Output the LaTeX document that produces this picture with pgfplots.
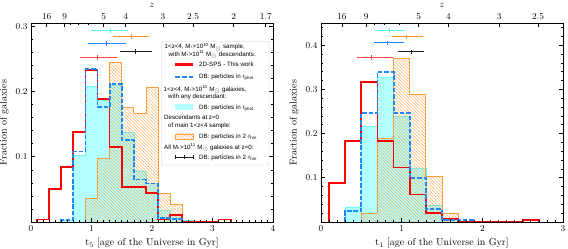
\documentclass[border=0pt]{standalone}
\usepackage{pgfplots}
\pgfplotsset{compat=1.18}
\usepackage{fontspec}
\newfontfamily\legfont{Liberation Sans}
\usetikzlibrary{patterns.meta}

\definecolor{hred}{RGB}{255,0,0}
\definecolor{legred}{RGB}{250,10,10}
\definecolor{hblue}{RGB}{30,136,255}
\definecolor{hcyanfill}{RGB}{178,255,255}
\definecolor{hcyanedge}{RGB}{110,245,245}
\definecolor{horange}{RGB}{255,160,64}
\definecolor{ebred}{RGB}{255,70,70}
\definecolor{ebcyan}{RGB}{90,250,250}
\definecolor{eborange}{RGB}{255,150,40}
\definecolor{ebblue}{RGB}{40,130,255}
\definecolor{ebblack}{RGB}{30,30,30}
\definecolor{legframe}{RGB}{205,205,205}

\pgfplotsset{
  histax/.style={scale only axis, width=242pt, height=199pt, ymin=0,
    tick align=inside, xtick pos=bottom, ytick pos=both, yticklabel pos=left,
    minor x tick num=9,
    axis line style={line width=0.9pt},
    major tick length=4pt, minor tick length=2pt,
    every tick/.style={black, line width=0.6pt},
    tick label style={font=\small}, label style={font=\normalsize},
    axis on top, clip=true},
  ztopax/.style={scale only axis, width=242pt, height=199pt,
    axis x line*=top, hide y axis, tick align=inside,
    major tick length=4pt, minor tick length=2pt,
    every tick/.style={black, line width=0.6pt},
    x axis line style={draw=none},
    tick label style={font=\small}, xlabel={$z$},
    xlabel style={font=\normalsize, yshift=-1.5pt}},
  ebar/.style={only marks, mark=|, mark size=2.3pt, mark options={line width=1pt, #1},
    error bars/.cd, x dir=both, x explicit,
    error bar style={line width=1pt, #1},
    error mark options={line width=1pt, mark size=2.8pt, #1}},
  redstep/.style={const plot, color=hred, line width=1.7pt, mark=none},
  bluestep/.style={const plot, color=hblue, line width=1.8pt, mark=none, dash pattern=on 4.5pt off 1.8pt},
  cyanfill/.style={const plot, draw=none, fill=hcyanfill, mark=none},
  cyanedge/.style={const plot, color=hcyanedge, line width=0.6pt, mark=none},
  orangehatch/.style={const plot, color=horange, line width=0.8pt, mark=none,
    pattern={Lines[angle=-45,distance=2.3pt,line width=0.35pt]}, pattern color=horange},
}

\newcommand{\legtext}{\legfont\fontsize{6.2}{7.4}\selectfont}
\newcommand{\Ms}{M\textsubscript{*}}
\newcommand{\Msun}{M\textsubscript{$\odot$}}

\begin{document}
\begin{tikzpicture}
\useasboundingbox (-31pt,-27pt) rectangle (537pt,222pt);

% ---------------- left panel ----------------
\begin{axis}[histax, at={(0pt,0pt)}, anchor=south west,
  xmin=0, xmax=4, ymax=0.305,
  xtick={0,1,2,3,4},
  ytick={0.1,0.2,0.3},
  yticklabels={0.1,0.2,0.3},
  minor ytick={0.02,0.04,0.06,0.08,0.12,0.14,0.16,0.18,0.22,0.24,0.26,0.28},
  xlabel={t$_5$ [age of the Universe in Gyr]},
  ylabel={Fraction of galaxies}]
\addplot[cyanfill] coordinates {(0.5,0) (0.5,0.003) (0.7,0.102) (0.9,0.208) (1.1,0.187) (1.3,0.209) (1.5,0.138) (1.7,0.077) (1.9,0.059) (2.1,0.018) (2.3,0.010) (2.5,0.003) (2.7,0.003) (2.7,0)} \closedcycle;
\addplot[cyanedge] coordinates {(0.5,0) (0.5,0.003) (0.7,0.102) (0.9,0.208) (1.1,0.187) (1.3,0.209) (1.5,0.138) (1.7,0.077) (1.9,0.059) (2.1,0.018) (2.3,0.010) (2.5,0.003) (2.7,0.003) (2.7,0)};
\addplot[orangehatch] coordinates {(0.9,0) (0.9,0.036) (1.1,0.097) (1.3,0.245) (1.5,0.176) (1.7,0.167) (1.9,0.206) (2.1,0.044) (2.3,0.027) (2.5,0.027) (2.5,0)} \closedcycle;
\addplot[redstep] coordinates {(0.1,0) (0.1,0.004) (0.3,0.051) (0.5,0.084) (0.7,0.138) (0.9,0.233) (1.1,0.189) (1.3,0.115) (1.5,0.054) (1.7,0.054) (1.9,0.044) (2.1,0.004) (2.3,0.011) (2.5,0) (3.1,0) (3.1,0.004) (3.3,0.004) (3.3,0)};
\addplot[bluestep] coordinates {(0.5,0) (0.5,0.003) (0.7,0.108) (0.9,0.234) (1.1,0.176) (1.3,0.212) (1.5,0.126) (1.7,0.065) (1.9,0.059) (2.1,0.006) (2.3,0.005) (2.5,0.005) (2.5,0)};
\addplot[ebar=ebcyan] coordinates {(1.306,0.2935) += (0.259,0) -= (0.265,0)};
\addplot[ebar=eborange] coordinates {(1.653,0.284) += (0.259,0) -= (0.248,0)};
\addplot[ebar=ebblue] coordinates {(1.25,0.2735) += (0.266,0) -= (0.26,0)};
\addplot[ebar=ebblack] coordinates {(1.735,0.2612) += (0.22,0) -= (0.22,0)};
\addplot[ebar=ebred] coordinates {(1.096,0.2522) += (0.281,0) -= (0.232,0)};
\end{axis}
\begin{axis}[ztopax, at={(0pt,0pt)}, anchor=south west,
  xmin=0, xmax=4, ymin=0, ymax=1,
  xtick={0.26,0.555,1.20,1.565,2.18,2.68,3.35,3.88},
  xticklabels={16,9,5,4,3,2.5,2,1.7},
  minor xtick={0.655,0.78,0.955}]
\end{axis}

% ---------------- right panel ----------------
\begin{axis}[histax, at={(290pt,0pt)}, anchor=south west,
  xmin=0, xmax=3, ymax=0.45,
  xtick={0,1,2,3},
  ytick={0.1,0.2,0.3,0.4},
  yticklabels={0.1,0.2,0.3,0.4},
  minor ytick={0.02,0.04,0.06,0.08,0.12,0.14,0.16,0.18,0.22,0.24,0.26,0.28,0.32,0.34,0.36,0.38,0.42,0.44},
  xlabel={t$_1$ [age of the Universe in Gyr]},
  ylabel={Fraction of galaxies}]
\addplot[cyanfill] coordinates {(0.3,0) (0.3,0.034) (0.5,0.217) (0.7,0.328) (0.9,0.240) (1.1,0.122) (1.3,0.037) (1.5,0.006) (1.7,0.006) (1.7,0)} \closedcycle;
\addplot[cyanedge] coordinates {(0.3,0) (0.3,0.034) (0.5,0.217) (0.7,0.328) (0.9,0.240) (1.1,0.122) (1.3,0.037) (1.5,0.006) (1.7,0.006) (1.7,0)};
\addplot[orangehatch] coordinates {(0.5,0) (0.5,0.020) (0.7,0.188) (0.9,0.370) (1.1,0.288) (1.3,0.104) (1.5,0.020) (1.7,0.020) (1.7,0)} \closedcycle;
\addplot[redstep] coordinates {(0.1,0) (0.1,0.088) (0.3,0.183) (0.5,0.317) (0.7,0.183) (0.9,0.123) (1.1,0.062) (1.3,0.020) (1.5,0.007) (1.7,0) (2.5,0) (2.5,0.004) (2.7,0.004) (2.7,0)};
\addplot[bluestep] coordinates {(0.3,0) (0.3,0.024) (0.5,0.246) (0.7,0.339) (0.9,0.246) (1.1,0.100) (1.3,0.029) (1.5,0.005) (1.7,0.004) (1.9,0.004) (1.9,0)};
\addplot[ebar=ebcyan] coordinates {(0.853,0.4336) += (0.153,0) -= (0.149,0)};
\addplot[ebar=eborange] coordinates {(1.06,0.4186) += (0.166,0) -= (0.144,0)};
\addplot[ebar=ebblue] coordinates {(0.829,0.405) += (0.17,0) -= (0.141,0)};
\addplot[ebar=ebblack] coordinates {(1.118,0.3846) += (0.129,0) -= (0.132,0)};
\addplot[ebar=ebred] coordinates {(0.626,0.372) += (0.238,0) -= (0.149,0)};
\end{axis}
\begin{axis}[ztopax, at={(290pt,0pt)}, anchor=south west,
  xmin=0, xmax=3, ymin=0, ymax=1,
  xtick={0.26,0.56,1.21,1.58,2.21,2.69},
  xticklabels={16,9,5,4,3,2.5},
  minor xtick={0.66,0.785,0.965}]
\end{axis}

% ---------------- legend of the left panel ----------------
\filldraw[draw=legframe, fill=white, line width=0.4pt, rounded corners=1.5pt] (130.5pt,57pt) rectangle (238pt,180.5pt);
\fill[hblue] (144pt,144.45pt) rectangle (149pt,146.15pt);
\fill[hblue] (150.8pt,144.45pt) rectangle (155.8pt,146.15pt);
\fill[hblue] (157.6pt,144.45pt) rectangle (162pt,146.15pt);
\fill[legred] (144pt,156.3pt) rectangle (162pt,158.6pt);
\fill[hcyanfill] (144pt,112pt) rectangle (162pt,117.5pt);
\draw[horange, line width=0.7pt, pattern={Lines[angle=-45,distance=2.2pt,line width=0.35pt]}, pattern color=horange] (144pt,82.6pt) rectangle (162pt,88pt);
\fill[ebblack] (144pt,64.25pt) rectangle (162pt,65.15pt);
\fill[ebblack] (143.55pt,62.5pt) rectangle (144.45pt,66.9pt);
\fill[ebblack] (161.55pt,62.5pt) rectangle (162.45pt,66.9pt);
\fill[ebblack] (152.55pt,62.5pt) rectangle (153.45pt,66.9pt);
\begin{scope}[every node/.style={anchor=base west, inner sep=0pt, font=\legtext, text=black}]
\node at (133.5pt,173.1pt) {1<z<4, \Ms>10\textsuperscript{10} \Msun\ sample,};
\node at (137.5pt,165.8pt) {with \Ms>10\textsuperscript{11} \Msun\ descendants:};
\node at (168pt,155.5pt) {2D-SPS - This work};
\node at (168pt,143.1pt) {DB: particles in r\textsubscript{phot}};
\node at (132.5pt,130.5pt) {1<z<4, \Ms>10\textsuperscript{10} \Msun\ galaxies,};
\node at (137pt,123.1pt) {with any descendant:};
\node at (168pt,112.5pt) {DB: particles in r\textsubscript{phot}};
\node at (133pt,102.1pt) {Descendants at z=0};
\node at (137pt,94.1pt) {of main 1<z<4 sample:};
\node at (168pt,83.1pt) {DB: particles in 2$\cdot$r\textsubscript{hm}};
\node at (133pt,72.5pt) {All \Ms>10\textsuperscript{11} \Msun\ galaxies at z=0:};
\node at (168pt,62.5pt) {DB: particles in 2$\cdot$r\textsubscript{hm}};
\end{scope}
\end{tikzpicture}
\end{document}
